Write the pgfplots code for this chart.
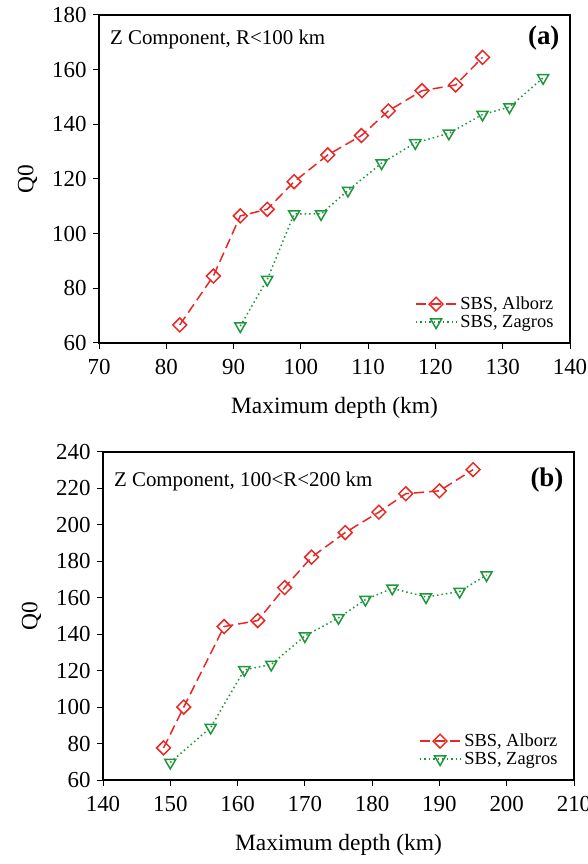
\documentclass[border=0pt]{standalone}
\usepackage{fontspec}
\setmainfont{Liberation Serif}
\usepackage{pgfplots}
\pgfplotsset{compat=1.18}
\definecolor{cred}{RGB}{232,40,36}
\definecolor{cgreen}{RGB}{30,150,60}
\pgfplotsset{
  myaxis/.style={
    scale only axis, width=471bp, height=328bp,
    axis line style={line width=1.6pt},
    tick align=outside, tick pos=left,
    major tick length=6bp,
    every tick/.style={line width=1pt, black},
    /pgf/number format/assume math mode=true,
    tick label style={font=\fontsize{23}{25}\selectfont},
    xticklabel style={yshift=-7bp},
    yticklabel style={xshift=-3bp},
    label style={font=\fontsize{23.5}{26}\selectfont},
    xlabel={Maximum depth (km)}, ylabel={Q0},
    xlabel style={at={(axis description cs:0.5,-0.198)}, anchor=center},
    ylabel style={at={(axis description cs:-0.152,0.5)}, anchor=center},
    legend style={draw=none, fill=none, font=\fontsize{18.5}{21}\selectfont,
      anchor=south east, at={(0.978,0.03)}, row sep=0bp,
      legend cell align=left, nodes={inner xsep=3bp}},
    legend image code/.code={\draw[mark repeat=2,mark phase=2] plot coordinates {(0cm,0cm) (0.72cm,0cm) (1.44cm,0cm)};},
  },
  alb/.style={cred, line width=1.5pt, dash pattern=on 10bp off 5bp, mark=square,
    mark size=4.9bp, mark options={solid, rotate=45, line width=1.5pt, fill=white}},
  zag/.style={cgreen, line width=1.5pt, dash pattern=on 1.5bp off 3bp, mark=triangle,
    mark size=6.4bp, mark options={solid, rotate=180, line width=1.5pt, fill=white}},
}
\begin{document}
\begin{tikzpicture}
\useasboundingbox (0,0) rectangle (588bp,864bp);
% panel (a)
\begin{axis}[myaxis, at={(99bp,521bp)}, anchor=south west,
  xmin=70, xmax=140, ymin=60, ymax=180, xtick distance=10, ytick distance=20]
\addplot[alb] coordinates {(82,66.6) (87,84.5) (91,106.5) (95,108.9) (99,119) (104,128.8) (109,135.9) (113,144.9) (118,152.3) (123,154.4) (127,164.5)};
\addlegendentry{SBS, Alborz}
\addplot[zag] coordinates {(91,66.2) (95,83.2) (99,107.2) (103,107.2) (107,115.8) (112,125.8) (117,133.2) (122,136.7) (127,143.6) (131,146.3) (136,157)};
\addlegendentry{SBS, Zagros}
\node[anchor=west, font=\fontsize{21}{23}\selectfont] at (rel axis cs:0.016,0.925) {Z Component, R<100 km};
\node[anchor=east, font=\fontsize{27}{29}\selectfont\bfseries] at (rel axis cs:0.985,0.93) {(a)};
\end{axis}
% panel (b)
\begin{axis}[myaxis, at={(103bp,84bp)}, anchor=south west,
  xmin=140, xmax=210, ymin=60, ymax=240, xtick distance=10, ytick distance=20]
\addplot[alb] coordinates {(149,77.6) (152,100) (158,144.2) (163,147.5) (167,165.6) (171,182.3) (176,195.8) (181,207) (185,217.1) (190,218.7) (195,230.3)};
\addlegendentry{SBS, Alborz}
\addplot[zag] coordinates {(150,69.6) (156,88.8) (161,120.4) (165,123.4) (170,139) (175,149) (179,159) (183,165.2) (188,160.4) (193,163.4) (197,172.5)};
\addlegendentry{SBS, Zagros}
\node[anchor=west, font=\fontsize{21}{23}\selectfont] at (rel axis cs:0.016,0.91) {Z Component, 100<R<200 km};
\node[anchor=east, font=\fontsize{27}{29}\selectfont\bfseries] at (rel axis cs:0.985,0.915) {(b)};
\end{axis}
\end{tikzpicture}
\end{document}
